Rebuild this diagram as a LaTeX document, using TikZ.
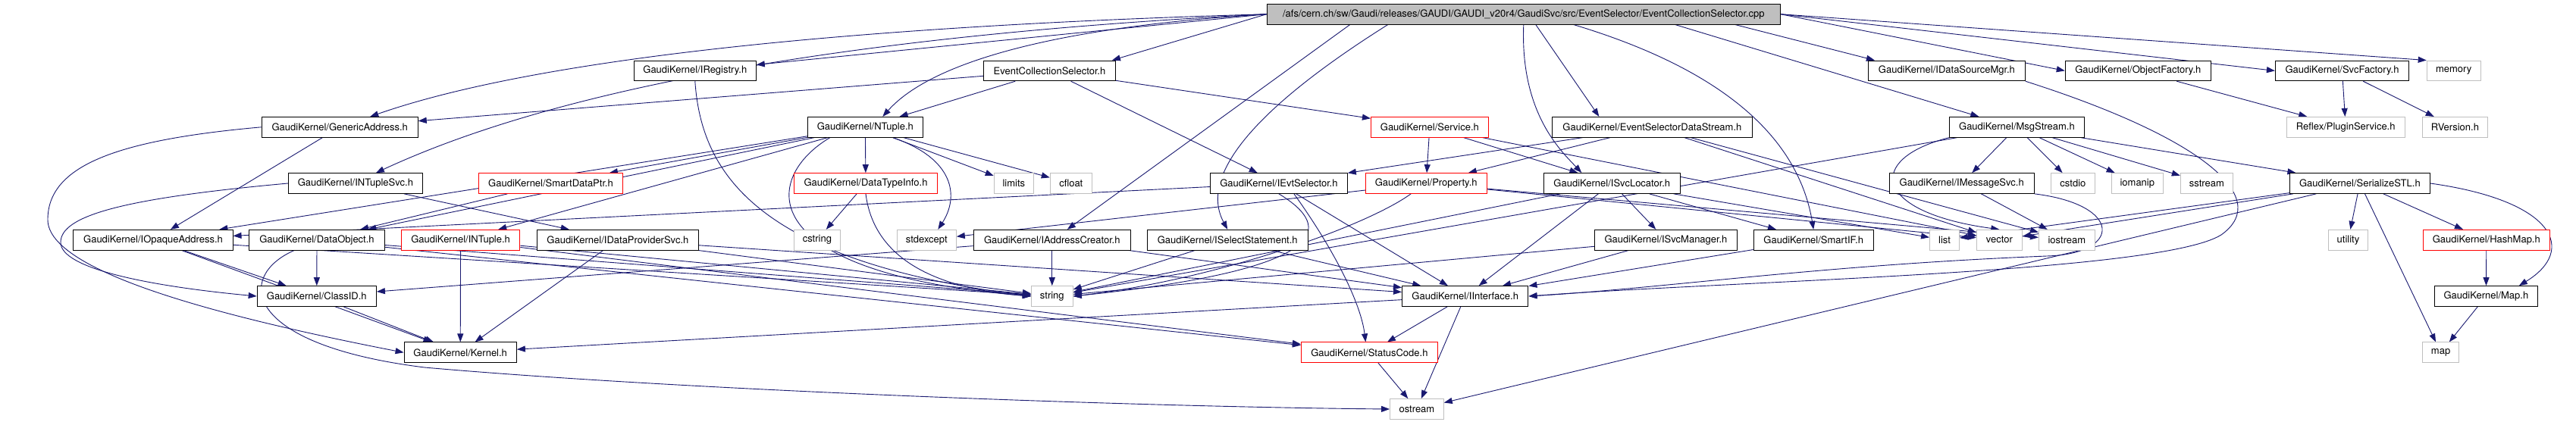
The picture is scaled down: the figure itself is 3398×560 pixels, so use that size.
\documentclass[tikz,border=0pt]{standalone}
\usepackage{fontspec}
\setmainfont{TeX Gyre Heros}
\usetikzlibrary{arrows.meta,backgrounds}
\definecolor{edgecol}{HTML}{191970}
\definecolor{sysgray}{HTML}{BFBFBF}
\definecolor{rootgray}{HTML}{BFBFBF}
\newcommand\dgfont{\fontsize{13pt}{15pt}\selectfont}
\tikzset{
  box/.style={draw=black, fill=white, line width=1pt, minimum height=26.7pt, inner sep=0pt, font=\dgfont, anchor=center},
  trunc/.style={box, draw=red},
  sys/.style={box, draw=sysgray},
  rootbox/.style={box, fill=rootgray},
  dep/.style={draw=edgecol, line width=0.9pt, -{Triangle[length=11pt,width=8pt]}},
}
\begin{document}
\begin{tikzpicture}[x=1pt,y=-1pt]
\useasboundingbox (0,0) rectangle (3398,560);
% row 0
\node[rootbox, minimum width=677.2pt] (R) at (2009.8,18.7) {/afs/cern.ch/sw/Gaudi/releases/GAUDI/GAUDI\_v20r4/GaudiSvc/src/EventSelector/EventCollectionSelector.cpp};
% row 1
\node[box, minimum width=160.9pt] (IReg) at (916.8,93.4) {GaudiKernel/IRegistry.h};
\node[box, minimum width=173.8pt] (ECS) at (1384.5,93.4) {EventCollectionSelector.h};
\node[box, minimum width=206.8pt] (IDSM) at (2567.9,93.4) {GaudiKernel/IDataSourceMgr.h};
\node[box, minimum width=192.1pt] (OF) at (2820.3,93.4) {GaudiKernel/ObjectFactory.h};
\node[box, minimum width=176.2pt] (SF) at (3089.5,93.4) {GaudiKernel/SvcFactory.h};
\node[sys, minimum width=71pt] (mem) at (3236.7,93.4) {memory};
% row 2
\node[box, minimum width=206.1pt] (GA) at (448.2,167.8) {GaudiKernel/GenericAddress.h};
\node[box, minimum width=152pt] (NT) at (1141.3,167.8) {GaudiKernel/NTuple.h};
\node[trunc, minimum width=154.9pt] (Svc) at (1885.9,167.8) {GaudiKernel/Service.h};
\node[box, minimum width=264.1pt] (ESDS) at (2179.4,167.8) {GaudiKernel/EventSelectorDataStream.h};
\node[box, minimum width=178pt] (Msg) at (2660.4,167.8) {GaudiKernel/MsgStream.h};
\node[sys, minimum width=156pt] (PS) at (3094.2,167.8) {Reflex/PluginService.h};
\node[sys, minimum width=85.8pt] (RV) at (3238.4,167.8) {RVersion.h};
% row 3
\node[box, minimum width=177.2pt] (INTS) at (468.9,242) {GaudiKernel/INTupleSvc.h};
\node[trunc, minimum width=190.1pt] (SDP) at (726.5,242) {GaudiKernel/SmartDataPtr.h};
\node[trunc, minimum width=189pt] (DTI) at (1142,242) {GaudiKernel/DataTypeInfo.h};
\node[sys, minimum width=52.2pt] (lim) at (1337.3,242) {limits};
\node[sys, minimum width=55.1pt] (cfl) at (1412.8,242) {cfloat};
\node[box, minimum width=180.9pt] (IES) at (1686.9,242) {GaudiKernel/IEvtSelector.h};
\node[trunc, minimum width=159.8pt] (Prop) at (1881.2,242) {GaudiKernel/Property.h};
\node[box, minimum width=180.2pt] (ISL) at (2126.3,242) {GaudiKernel/ISvcLocator.h};
\node[box, minimum width=190.8pt] (IMS) at (2587.7,242) {GaudiKernel/IMessageSvc.h};
\node[sys, minimum width=58.1pt] (cstdio) at (2734.4,242) {cstdio};
\node[sys, minimum width=68.2pt] (iomanip) at (2819.3,242) {iomanip};
\node[sys, minimum width=69pt] (sstream) at (2910.8,242) {sstream};
\node[box, minimum width=185pt] (SSTL) at (3112.9,242) {GaudiKernel/SerializeSTL.h};
% row 4
\node[box, minimum width=210.1pt] (IOA) at (202,316.7) {GaudiKernel/IOpaqueAddress.h};
\node[box, minimum width=178.3pt] (DO) at (418,316.7) {GaudiKernel/DataObject.h};
\node[trunc, minimum width=156.5pt] (INT) at (607.6,316.7) {GaudiKernel/INTuple.h};
\node[box, minimum width=213.1pt] (IDPS) at (814.9,316.7) {GaudiKernel/IDataProviderSvc.h};
\node[sys, minimum width=60.7pt] (cstr) at (1077.9,316.7) {cstring};
\node[sys, minimum width=78pt] (stde) at (1222.3,316.7) {stdexcept};
\node[box, minimum width=207.2pt] (IAC) at (1387.8,316.7) {GaudiKernel/IAddressCreator.h};
\node[box, minimum width=211.9pt] (ISS) at (1619.2,316.7) {GaudiKernel/ISelectStatement.h};
\node[box, minimum width=187.9pt] (ISM) at (2197.5,316.7) {GaudiKernel/ISvcManager.h};
\node[box, minimum width=158pt] (SIF) at (2392.2,316.7) {GaudiKernel/SmartIF.h};
\node[sys, minimum width=38.9pt] (list) at (2565,316.7) {list};
\node[sys, minimum width=59.9pt] (vector) at (2637.3,316.7) {vector};
\node[sys, minimum width=74pt] (iostream) at (2726.4,316.7) {iostream};
\node[sys, minimum width=51.9pt] (util) at (3097.5,316.7) {utility};
\node[trunc, minimum width=167pt] (HM) at (3279.8,316.7) {GaudiKernel/HashMap.h};
% row 5
\node[box, minimum width=157.2pt] (CID) at (417.8,391) {GaudiKernel/ClassID.h};
\node[sys, minimum width=54.8pt] (str) at (1387.8,391) {string};
\node[box, minimum width=166.5pt] (II) at (1932.7,391) {GaudiKernel/IInterface.h};
\node[box, minimum width=135.8pt] (Map) at (3279.4,391) {GaudiKernel/Map.h};
% row 6
\node[box, minimum width=148.3pt] (Ker) at (607.2,465.3) {GaudiKernel/Kernel.h};
\node[trunc, minimum width=180.1pt] (SC) at (1806.4,465.3) {GaudiKernel/StatusCode.h};
\node[sys, minimum width=48.1pt] (map) at (3219.6,465.3) {map};
% row 7
\node[sys, minimum width=70.7pt] (ost) at (1868.9,540) {ostream};

\begin{scope}[on background layer]
\fill[white] (0,0) rectangle (3398,560);
% ---- edges from root
\draw[dep] (R.west) -- (IReg);
\draw[dep] (R.west) -- ([xshift=-5pt]ECS.north east);
\draw[dep] (R.west) .. controls (1100,35) and (700,80) .. ([xshift=40pt]GA.north);
\draw[dep] (R.west) .. controls (1150,45) and (750,110) .. ([xshift=27pt]INTS.north);
\draw[dep] (R.west) .. controls (1400,35) and (1230,80) .. ([xshift=23pt]NT.north);
\draw[dep] ([xshift=110pt]R.south west) -- ([xshift=20pt]IAC.north);
\draw[dep] ([xshift=160pt]R.south west) .. controls (1660,140) and (1580,230) .. (ISS.north);
\draw[dep] (R.south) .. controls (2005,150) and (2060,200) .. ([xshift=-40pt]ISL.north);
\draw[dep] ([xshift=16pt]R.south) -- ([xshift=-70pt]ESDS.north);
\draw[dep] ([xshift=66pt]R.south) .. controls (2300,100) and (2375,200) .. (SIF.north);
\draw[dep] ([xshift=200pt]R.south) -- ([xshift=-50pt]Msg.north);
\draw[dep] ([xshift=-60pt]R.south east) -- ([xshift=-95pt]IDSM.north);
\draw[dep] (R.east) -- (OF.west);
\draw[dep] (R.east) -- (SF.west);
\draw[dep] (R.east) -- (mem.north west);
% ---- EventCollectionSelector.h
\draw[dep] (ECS) -- (GA);
\draw[dep] (ECS) -- (NT);
\draw[dep] (ECS) -- (IES);
\draw[dep] (ECS) -- (Svc);
% ---- GenericAddress
\draw[dep] (GA) -- (IOA);
\draw[dep] (GA.west) .. controls (150,185) and (63,220) .. (63,290) .. controls (63,360) and (300,420) .. (Ker.west);
% ---- INTupleSvc
\draw[dep] (INTS) -- (IDPS);
\draw[dep] (INTS.west) .. controls (160,262) and (80,285) .. (80,320) .. controls (80,355) and (200,378) .. (CID.west);
% ---- NTuple
\draw[dep] (NT) -- (DTI);
\draw[dep] (NT) -- (lim);
\draw[dep] (NT) -- (cfl);
\draw[dep] ([xshift=-40pt]NT.south east) .. controls (1260,210) and (1265,260) .. ([xshift=15pt]stde.north);
\draw[dep] ([xshift=30pt]NT.south west) .. controls (1005,235) and (990,360) .. (str.west);
\draw[dep] (NT) -- (SDP);
\draw[dep] (NT) -- (INT);
\draw[dep] (NT) -- (DO);
\draw[dep] (NT) -- (IOA);
% ---- SmartDataPtr, DataTypeInfo
\draw[dep] (SDP) -- (DO);
\draw[dep] (DTI) -- (cstr);
\draw[dep] (DTI.south) .. controls (1150,320) and (1200,378) .. (str.west);
% ---- IRegistry
\draw[dep] (IReg.south) .. controls (925,230) and (1000,345) .. (str.west);
% ---- Service, Property
\draw[dep] (Svc) -- (Prop);
\draw[dep] (Svc) -- (ISL);
\draw[dep] (Svc) -- (vector);
\draw[dep] ([xshift=-20pt]Prop.south) .. controls (1800,300) and (1600,370) .. (str.east);
\draw[dep] (Prop) -- (stde);
\draw[dep] (Prop) -- (vector);
\draw[dep] (Prop) -- (iostream);
% ---- EventSelectorDataStream
\draw[dep] (ESDS) -- (IES);
\draw[dep] (ESDS) -- (Prop);
\draw[dep] (ESDS) -- (vector);
\draw[dep] (ESDS) -- (iostream);
% ---- IEvtSelector
\draw[dep] (IES) -- (IOA);
\draw[dep] ([xshift=20pt]IES.south) .. controls (1760,330) and (1795,400) .. ([xshift=-5pt]SC.north);
\draw[dep] (IES.south) .. controls (1760,300) and (1760,355) .. (str.east);
\draw[dep] (IES) -- (II);
% ---- ISvcLocator
\draw[dep] (ISL) -- (ISM);
\draw[dep] (ISL) -- (list);
\draw[dep] (ISL) -- (str);
\draw[dep] (ISL) -- (II);
\draw[dep] (ISL) -- (SIF);
% ---- row 4 interfaces
\draw[dep] (ISM) -- (II);
\draw[dep] (ISM) -- (str);
\draw[dep] (SIF) -- (II);
\draw[dep] (IAC) -- (str);
\draw[dep] (IAC) -- (II);
\draw[dep] (IAC) -- (CID);
\draw[dep] (ISS) -- (str);
\draw[dep] (ISS) -- (II);
\draw[dep] (IDPS) -- (Ker);
\draw[dep] (IDPS) -- (str);
\draw[dep] (IDPS) -- (II);
\draw[dep] (INT) -- (Ker);
\draw[dep] (INT) -- (str);
\draw[dep] (INT) -- (SC);
\draw[dep] (DO) -- (CID);
\draw[dep] (DO) -- (str);
\draw[dep] (DO) -- (SC);
\draw[dep] ([xshift=-30pt]DO.south) .. controls (310,365) and (320,455) .. (560,485) .. controls (900,515) and (1500,537) .. (ost.west);
\draw[dep] (IOA) -- (CID);
\draw[dep] (IOA) -- (Ker);
\draw[dep] (IOA) -- (str);
% ---- lower levels
\draw[dep] (CID) -- (Ker);
\draw[dep] (II) -- (Ker);
\draw[dep] (II) -- (SC);
\draw[dep] (II) -- (ost);
\draw[dep] (SC) -- (ost);
% ---- MsgStream, IMessageSvc, IDataSourceMgr
\draw[dep] (Msg) -- (IMS);
\draw[dep] (Msg) -- (cstdio);
\draw[dep] (Msg) -- (iomanip);
\draw[dep] (Msg) -- (sstream);
\draw[dep] (Msg) -- (SSTL);
\draw[dep] (Msg) -- (str);
\draw[dep] (Msg.south west) .. controls (2460,210) and (2470,280) .. (vector.north);
\draw[dep] (IMS) -- (iostream);
\draw[dep] (IMS.south east) .. controls (2800,270) and (2800,335) .. (2700,338) .. controls (2400,350) and (2200,380) .. (II.east);
\draw[dep] (IDSM.south east) .. controls (2900,180) and (3000,260) .. (2930,310) .. controls (2850,360) and (2300,370) .. (II.east);
% ---- SerializeSTL
\draw[dep] (SSTL) -- (util);
\draw[dep] (SSTL) -- (map);
\draw[dep] (SSTL) -- (HM);
\draw[dep] (SSTL.east) .. controls (3370,265) and (3400,330) .. ([xshift=-25pt]Map.north east);
\draw[dep] (SSTL) -- (ost);
\draw[dep] (SSTL) -- (vector);
\draw[dep] (SSTL) -- (list);
\draw[dep] (HM) -- (Map);
\draw[dep] (Map) -- (map);
% ---- factories
\draw[dep] (SF) -- (PS);
\draw[dep] (SF) -- (RV);
\draw[dep] (OF) -- (PS);
\end{scope}
\end{tikzpicture}
\end{document}
